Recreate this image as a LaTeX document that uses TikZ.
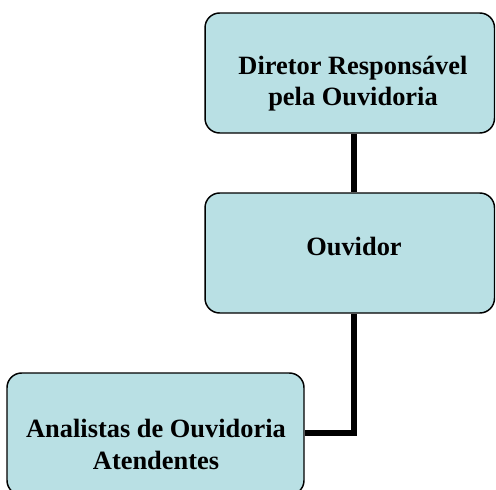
\documentclass[tikz,border=0pt]{standalone}
\usepackage{fontspec}
\setmainfont{Liberation Serif}
\definecolor{boxfill}{RGB}{185,224,228}
\tikzset{
  orgbox/.style={draw=black, line width=1.1pt, fill=boxfill, rounded corners=11pt,
    rectangle, inner sep=0pt},
  orgtext/.style={font=\fontsize{19.8}{23.6}\selectfont\bfseries, align=center, inner sep=0pt, anchor=base},
  link/.style={draw=black, line width=4.5pt}
}
\begin{document}
\begin{tikzpicture}[x=0.75pt,y=-0.75pt]
\useasboundingbox (0,0) rectangle (496,489);
\node[orgbox, minimum width=217.1pt, minimum height=90pt] (top) at (349.75,73) {};
\node[orgbox, minimum width=217.1pt, minimum height=90pt] (mid) at (349.75,253) {};
\node[orgbox, minimum width=222.75pt, minimum height=91.5pt] (bot) at (155.5,434) {};
\coordinate (spine) at (353.7,0);
\coordinate (joint) at (0,433);
\node[orgtext] (toptext) at (353,105.5) {Diretor Responsável\\pela Ouvidoria};
\node[orgtext] (midtext) at (354,255.7) {Ouvidor};
\node[orgtext] (bottext) at (156,469) {Analistas de Ouvidoria\\Atendentes};
\draw[link] (top.south -| spine) -- (mid.north -| spine);
\draw[link] (mid.south -| spine) |- (bot.east |- joint);
\end{tikzpicture}
\end{document}
